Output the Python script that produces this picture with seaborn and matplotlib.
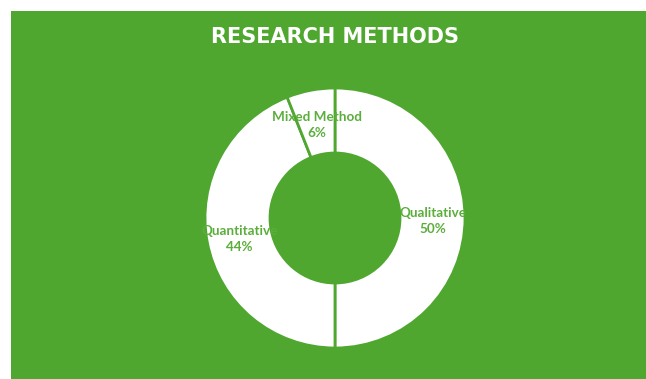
import matplotlib
matplotlib.use("Agg")
import matplotlib.pyplot as plt
from matplotlib.patches import Rectangle
import numpy as np
import seaborn as sns

# Data
methods = ["Qualitative", "Quantitative", "Mixed Method"]
shares = [50, 44, 6]
title_text = "RESEARCH METHODS"

GREEN = "#4FA72F"
LABEL_GREEN = "#5AAE3B"

sns.set_theme(style="white")
plt.rcParams["font.family"] = ["DejaVu Sans"]

W, H = 646, 379
fig = plt.figure(figsize=(W / 100, H / 100), dpi=100)
fig.patch.set_facecolor("white")

# Green panel with a thin white margin at left and top
fig.patches.append(Rectangle((11 / W, 0), 1 - 11 / W, 1 - 11 / H,
                             transform=fig.transFigure, facecolor=GREEN,
                             edgecolor="none", zorder=-10))

cx, cy, r = 335, 218, 130
ax = fig.add_axes([(cx - r) / W, (H - cy - r) / H, 2 * r / W, 2 * r / H])
ax.set_zorder(5)
ax.set_facecolor("none")

wedges, _ = ax.pie(shares, startangle=90, counterclock=False, radius=1,
                   colors=["white"] * len(shares),
                   wedgeprops=dict(width=0.5, edgecolor=GREEN, linewidth=2))
ax.set_xlim(-1, 1)
ax.set_ylim(-1, 1)
ax.set_aspect("equal")
ax.axis("off")

# Labels sit in the middle of the ring and are clipped to their own wedge
for w, name, val in zip(wedges, methods, shares):
    ang = np.deg2rad((w.theta1 + w.theta2) / 2)
    x, y = 0.75 * np.cos(ang), 0.75 * np.sin(ang) - 0.022
    t = ax.text(x, y, f"{name}\n{val}%", ha="center", va="center",
                color=LABEL_GREEN, fontsize=9.7, fontweight="bold",
                family=["Lato", "DejaVu Sans"], linespacing=1.45)
    t.set_clip_path(w)

fig.text(cx / W, 1 - 37 / H, title_text, ha="center", va="center",
         color="white", fontsize=15, fontweight="bold", zorder=10)

fig.savefig("out.png", dpi=100)
